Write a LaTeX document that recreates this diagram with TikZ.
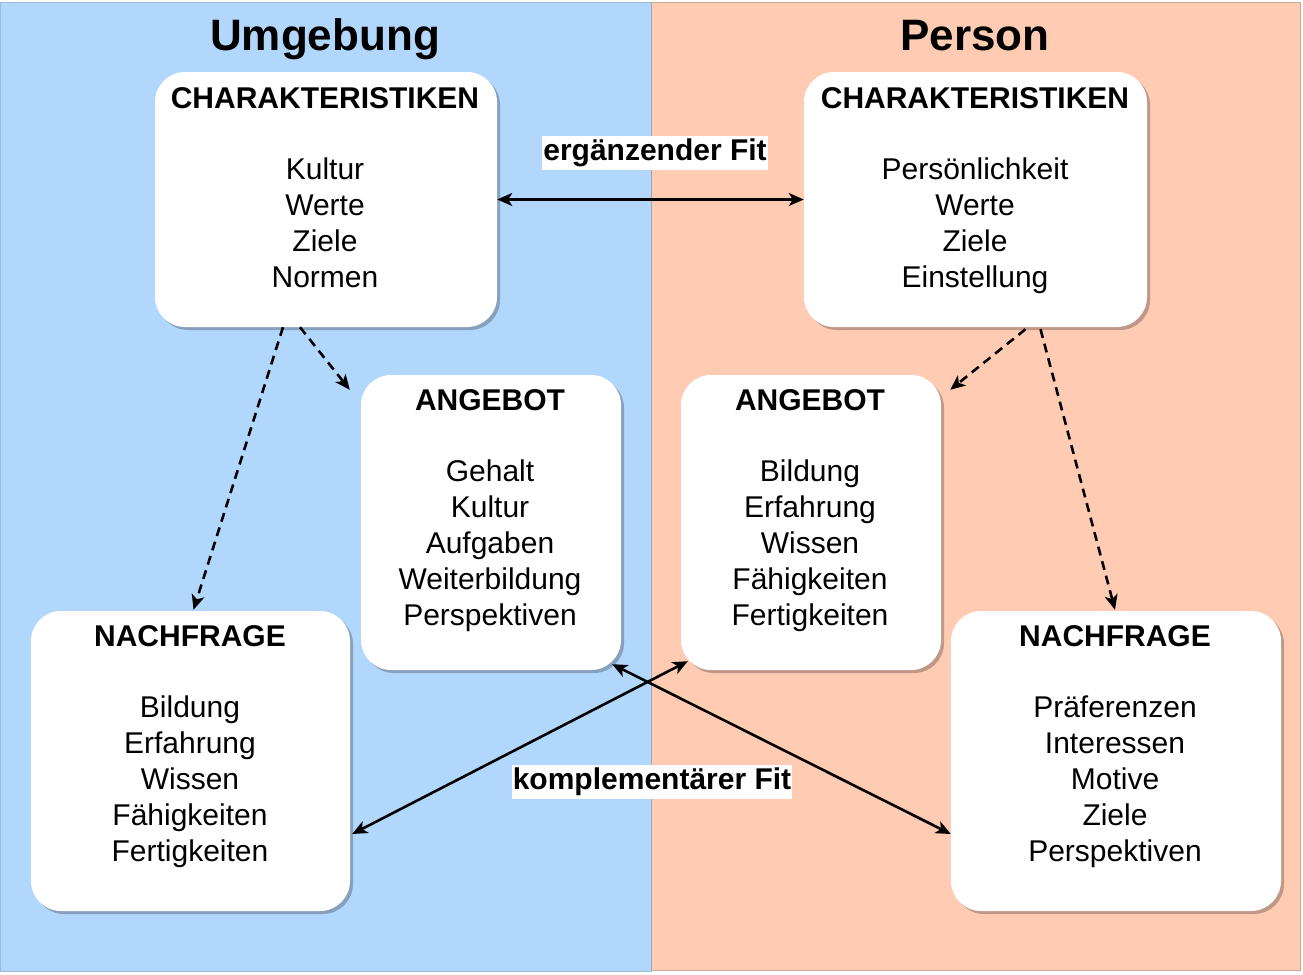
\documentclass[tikz,border=0pt]{standalone}
\usepackage{fontspec}
\setmainfont{Liberation Sans}
\usetikzlibrary{arrows.meta,shadows}
\definecolor{umgbg}{HTML}{B2D7FD}
\definecolor{perbg}{HTML}{FFCBB3}
\definecolor{umgline}{HTML}{9DBBD9}
\definecolor{perline}{HTML}{C9A898}
\begin{document}
\begin{tikzpicture}[x=1pt,y=-1pt,
  box/.style={fill=white, draw=none, rounded corners=30pt, inner sep=0,
    drop shadow={shadow xshift=3pt, shadow yshift=-3pt, opacity=0.25, fill=black}},
  hdr/.style={font=\bfseries\fontsize{30}{36}\selectfont, inner sep=0},
  body/.style={font=\fontsize{30}{36}\selectfont, align=center, inner sep=0, anchor=north},
  ttl/.style={font=\bfseries\fontsize{44}{50}\selectfont, inner sep=0, anchor=base},
  lbl/.style={fill=white, font=\bfseries\fontsize{30}{36}\selectfont, inner xsep=1pt, inner ysep=3pt},
  tip/.tip={Stealth[length=15pt,width=13pt,inset=4pt]},
  conn/.style={line width=2.6pt, tip-tip},
  dsh/.style={line width=2.6pt, dash pattern=on 9pt off 6pt, -tip}]
\useasboundingbox (0,0) rectangle (1303,974);
% panels
\fill[umgbg] (0,2) rectangle (651,972);
\draw[umgline, line width=1pt] (0.5,2.5) rectangle (651,971.5);
\fill[perbg] (652,2) rectangle (1300,970);
\draw[perline, line width=1pt] (652,2.5) -- (1300,2.5) -- (1300,970) -- (652,970);
\draw[gray!70, line width=1.5pt] (651.5,2) -- (651.5,970);
% titles
\node[ttl] (tu) at (325,51) {Umgebung};
\node[ttl] (tp) at (975,51) {Person};
% boxes
\node[box, minimum width=342pt, minimum height=255pt] (cl) at (326,199.5) {};
\node[box, minimum width=343pt, minimum height=255pt] (cr) at (975.5,199.5) {};
\node[box, minimum width=260pt, minimum height=295pt] (al) at (491,522.5) {};
\node[box, minimum width=260pt, minimum height=295pt] (ar) at (811,522.5) {};
\node[box, minimum width=319pt, minimum height=300pt] (nl) at (190.5,761) {};
\node[box, minimum width=330pt, minimum height=300pt] (nr) at (1116,761) {};
% texts
\node[hdr] (clh) at (325,98) {CHARAKTERISTIKEN};
\node[body] (clb) at (325,158) {Kultur\\Werte\\Ziele\\Normen};
\node[hdr] (crh) at (975,98) {CHARAKTERISTIKEN};
\node[body] (crb) at (975,158) {Persönlichkeit\\Werte\\Ziele\\Einstellung};
\node[hdr] (alh) at (490,400) {ANGEBOT};
\node[body] (alb) at (490,460) {Gehalt\\Kultur\\Aufgaben\\Weiterbildung\\Perspektiven};
\node[hdr] (arh) at (810,400) {ANGEBOT};
\node[body] (arb) at (810,460) {Bildung\\Erfahrung\\Wissen\\Fähigkeiten\\Fertigkeiten};
\node[hdr] (nlh) at (190,636) {NACHFRAGE};
\node[body] (nlb) at (190,696) {Bildung\\Erfahrung\\Wissen\\Fähigkeiten\\Fertigkeiten};
\node[hdr] (nrh) at (1115,636) {NACHFRAGE};
\node[body] (nrb) at (1115,696) {Präferenzen\\Interessen\\Motive\\Ziele\\Perspektiven};
% connectors
\draw[conn] (cl.east) -- (cr.west);
\node[lbl] (lf1) at (655,153) {ergänzender Fit};
\draw[dsh] ([xshift=-43pt]cl.south) -- ([xshift=3pt,yshift=1pt]nl.north);
\draw[dsh] ([xshift=-26pt]cl.south) -- ([xshift=-11pt,yshift=-15pt]al.north west);
\draw[dsh] ([xshift=50pt,yshift=-2pt]cr.south) -- ([xshift=9pt,yshift=-15pt]ar.north east);
\draw[dsh] ([xshift=65pt,yshift=-2pt]cr.south) -- ([xshift=-1pt,yshift=1pt]nr.north);
\draw[conn] ([xshift=2pt,yshift=-73pt]nl.east) -- ([xshift=7pt,yshift=9pt]ar.south west);
\draw[conn] ([xshift=-9pt,yshift=6pt]al.south east) -- ([yshift=-73pt]nr.west);
\node[lbl] (lf2) at (652,782) {komplementärer Fit};
\end{tikzpicture}
\end{document}
